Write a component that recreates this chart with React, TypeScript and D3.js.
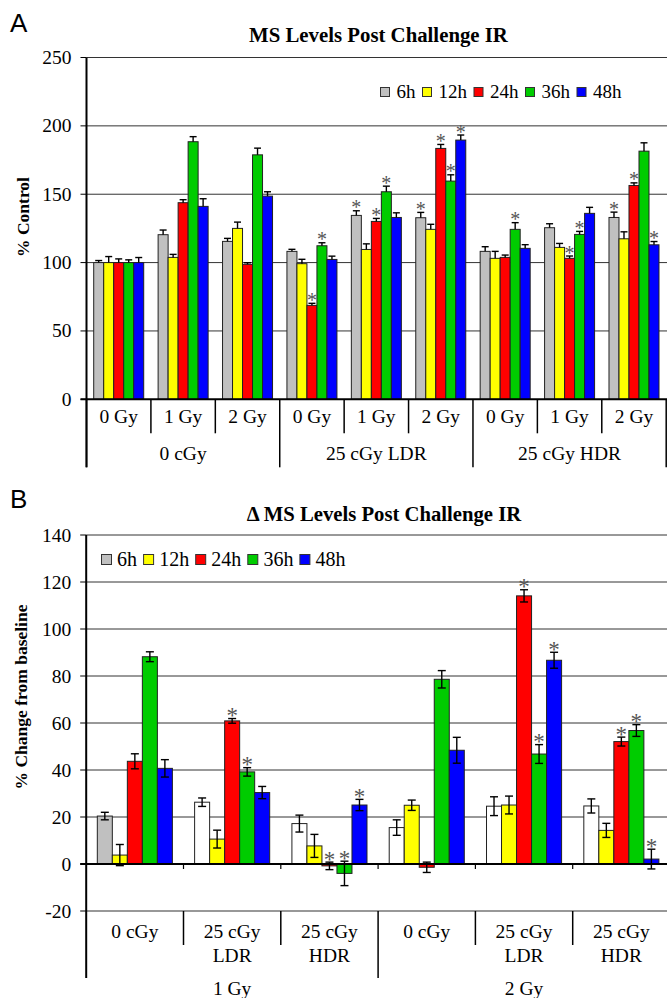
import { useEffect, useRef } from "react";
import * as d3 from "d3";

const seriesNames = ["6h", "12h", "24h", "36h", "48h"];
const seriesColors = ["#c0c0c0", "#ffff00", "#ff0000", "#00cc00", "#0000ff"];

// Panel A: % control, 9 dose groups inside 3 priming groups
const doseLabelsA = ["0 Gy", "1 Gy", "2 Gy", "0 Gy", "1 Gy", "2 Gy", "0 Gy", "1 Gy", "2 Gy"];
const primeLabelsA = ["0 cGy", "25 cGy LDR", "25 cGy HDR"];
const ticksA = [0, 50, 100, 150, 200, 250];

const a6h = [100, 120.4, 115.5, 108.2, 134.5, 132.8, 108.2, 125.5, 133];
const a12h = [100, 103.8, 125, 99.2, 109.6, 124.3, 103.1, 111.1, 117.4];
const a24h = [100, 143.8, 98.7, 68.7, 130.1, 183.5, 103.8, 103.1, 156.4];
const a36h = [100, 188.4, 178.8, 112.3, 151.8, 159.6, 124.3, 120.6, 181.5];
const a48h = [100, 141.1, 148.6, 102.3, 133, 189.6, 110.4, 136, 113];

const a6hErr = [1.5, 3.4, 2.2, 1.5, 3.4, 3.9, 3.4, 2.9, 3.9];
const a12hErr = [4.4, 2.2, 4.6, 3.2, 4.1, 3.7, 5.1, 2.9, 5.1];
const a24hErr = [2.7, 2.2, 1.2, 1.5, 2.2, 2.9, 1.7, 1.7, 1.9];
const a36hErr = [2, 3.7, 4.9, 2.2, 4.1, 4.6, 4.9, 2.2, 6.1];
const a48hErr = [3.7, 5.6, 3.2, 2.4, 3.4, 3.7, 2.7, 4.4, 2.4];

const a6hSig = [0, 0, 0, 0, 1, 1, 0, 0, 1];
const a12hSig = [0, 0, 0, 0, 0, 0, 0, 0, 0];
const a24hSig = [0, 0, 0, 1, 1, 1, 0, 1, 1];
const a36hSig = [0, 0, 0, 1, 1, 1, 1, 1, 0];
const a48hSig = [0, 0, 0, 0, 0, 1, 0, 0, 1];

// Panel B: % change from baseline, 6 priming groups inside 2 challenge doses
const primeLabelsB = [["0 cGy"], ["25 cGy", "LDR"], ["25 cGy", "HDR"], ["0 cGy"], ["25 cGy", "LDR"], ["25 cGy", "HDR"]];
const doseLabelsB = ["1 Gy", "2 Gy"];
const ticksB = [-20, 0, 20, 40, 60, 80, 100, 120, 140];

const b6h = [20.4, 26.3, 17.2, 15.5, 24.6, 24.7];
const b12h = [3.8, 10.6, 7.7, 25, 25.1, 14.3];
const b24h = [43.7, 60.9, -0.8, -1.4, 114.1, 52.1];
const b36h = [88.2, 39.2, -4, 78.6, 46.8, 56.8];
const b48h = [40.7, 30.4, 25.1, 48.4, 86.7, 2.1];

const b6hErr = [1.6, 1.8, 3.6, 3.3, 4, 3];
const b12hErr = [4.5, 3.8, 4.9, 2.2, 3.8, 3];
const b24hErr = [3.2, 1, 1.6, 2.2, 2.6, 1.9];
const b36hErr = [2.1, 1.8, 5.2, 3.7, 4, 2.5];
const b48hErr = [3.7, 2.6, 2.4, 5.5, 3.4, 4.2];

const b6hSig = [0, 0, 0, 0, 0, 0];
const b12hSig = [0, 0, 0, 0, 0, 0];
const b24hSig = [0, 1, 1, 0, 1, 1];
const b36hSig = [0, 1, 1, 0, 1, 1];
const b48hSig = [0, 0, 1, 0, 1, 1];

const SERIF = "'Liberation Serif', 'Times New Roman', serif";
const SANS = "'Liberation Sans', Arial, sans-serif";
const LABEL_SIZE = 19.5;

type Sel = d3.Selection<SVGGElement, unknown, null, undefined>;

type PanelCfg = {
    left: number;
    right: number;
    top: number;
    bottom: number;
    domain: [number, number];
    ticks: number[];
    values: number[][];
    errors: number[][];
    sig: number[][];
    twoSided: boolean;
    outerPad: number;
    starSize: number;
    starDrop: number;
    fill: (s: number, g: number) => string;
};

function drawBars(g: Sel, c: PanelCfg) {
    const nGroups = c.values[0].length;
    const groups = d3.range(nGroups);
    const x0 = d3.scaleBand<number>().domain(groups).range([c.left, c.right]);
    const x1 = d3
        .scaleBand<number>()
        .domain(d3.range(c.values.length))
        .range([0, x0.bandwidth()])
        .paddingInner(0)
        .paddingOuter(c.outerPad);
    const y = d3.scaleLinear(c.domain, [c.bottom, c.top]);

    // gridlines
    g.append("g")
        .selectAll("line")
        .data(c.ticks.filter((t) => t !== 0 && t !== c.domain[0]))
        .join("line")
        .attr("x1", c.left)
        .attr("x2", 667)
        .attr("y1", (d) => y(d))
        .attr("y2", (d) => y(d))
        .attr("stroke", "#333")
        .attr("stroke-width", 1);

    // y ticks + labels
    const ya = g.append("g");
    ya.selectAll("line")
        .data(c.ticks)
        .join("line")
        .attr("x1", c.left - 6)
        .attr("x2", c.left)
        .attr("y1", (d) => y(d))
        .attr("y2", (d) => y(d))
        .attr("stroke", "#000");
    ya.selectAll("text")
        .data(c.ticks)
        .join("text")
        .attr("x", c.left - 15)
        .attr("y", (d) => y(d) + 6.5)
        .attr("text-anchor", "end")
        .attr("font-family", SERIF)
        .attr("font-size", LABEL_SIZE)
        .text((d) => d);

    const bars = g.append("g");
    c.values.forEach((vals, s) => {
        vals.forEach((v, gi) => {
            const bx = (x0(gi) ?? 0) + (x1(s) ?? 0);
            const bw = x1.bandwidth();
            const cx = bx + bw / 2;
            const e = c.errors[s][gi];
            bars.append("rect")
                .attr("x", bx)
                .attr("y", y(Math.max(v, 0)))
                .attr("width", bw)
                .attr("height", Math.abs(y(v) - y(0)))
                .attr("fill", c.fill(s, gi))
                .attr("stroke", "#222")
                .attr("stroke-width", 1);
            const hi = y(v + e);
            const lo = c.twoSided ? y(v - e) : y(v);
            const cap = c.twoSided ? 4 : 3.5;
            bars.append("line")
                .attr("x1", cx)
                .attr("x2", cx)
                .attr("y1", lo)
                .attr("y2", hi)
                .attr("stroke", "#000")
                .attr("stroke-width", 1.4);
            bars.append("line")
                .attr("x1", cx - cap)
                .attr("x2", cx + cap)
                .attr("y1", hi)
                .attr("y2", hi)
                .attr("stroke", "#000")
                .attr("stroke-width", 1.4);
            if (c.twoSided) {
                bars.append("line")
                    .attr("x1", cx - cap)
                    .attr("x2", cx + cap)
                    .attr("y1", lo)
                    .attr("y2", lo)
                    .attr("stroke", "#000")
                    .attr("stroke-width", 1.4);
            }
            if (c.sig[s][gi]) {
                bars.append("text")
                    .attr("x", cx)
                    .attr("y", hi + c.starDrop)
                    .attr("text-anchor", "middle")
                    .attr("font-family", SERIF)
                    .attr("font-size", c.starSize)
                    .attr("fill", "#555")
                    .text("*");
            }
        });
    });

    // zero line
    g.append("line")
        .attr("x1", c.left - 6)
        .attr("x2", 667)
        .attr("y1", y(0))
        .attr("y2", y(0))
        .attr("stroke", "#000")
        .attr("stroke-width", 2);

    return { x0, y };
}

function drawLegend(g: Sel, x: number, cy: number, sq: number, pad: number, size: number, gap: number) {
    let cx = x;
    seriesNames.forEach((name, i) => {
        g.append("rect")
            .attr("x", cx)
            .attr("y", cy - sq / 2)
            .attr("width", sq)
            .attr("height", sq)
            .attr("fill", seriesColors[i])
            .attr("stroke", "#333");
        const t = g
            .append("text")
            .attr("x", cx + sq + pad)
            .attr("y", cy + size * 0.34)
            .attr("font-family", SERIF)
            .attr("font-size", size)
            .text(name);
        const w = (t.node() as SVGTextElement).getComputedTextLength();
        cx += sq + pad + w + gap;
    });
}

function App() {
    const svgRef = useRef<SVGSVGElement>(null);

    useEffect(() => {
        if (!svgRef.current) return;
        const svg = d3.select(svgRef.current);
        const root = svg.append("g") as Sel;

        // ---------- Panel A ----------
        const gA = root.append("g") as Sel;
        const A = drawBars(gA, {
            left: 86.5,
            right: 666.2,
            top: 57.5,
            bottom: 399.3,
            domain: [0, 250],
            ticks: ticksA,
            values: [a6h, a12h, a24h, a36h, a48h],
            errors: [a6hErr, a12hErr, a24hErr, a36hErr, a48hErr],
            sig: [a6hSig, a12hSig, a24hSig, a36hSig, a48hSig],
            twoSided: false,
            outerPad: 0.72,
            starSize: 20,
            starDrop: 3.5,
            fill: (s) => seriesColors[s],
        });
        const yA0 = A.y(0);
        const bwA = A.x0.bandwidth();
        doseLabelsA.forEach((lab, i) => {
            const gx = A.x0(i) ?? 0;
            gA.append("text")
                .attr("x", gx + bwA / 2)
                .attr("y", yA0 + 24)
                .attr("text-anchor", "middle")
                .attr("font-family", SERIF)
                .attr("font-size", LABEL_SIZE)
                .text(lab);
        });
        d3.range(doseLabelsA.length + 1).forEach((i) => {
            const bx = i < doseLabelsA.length ? A.x0(i) ?? 0 : 666.2;
            const outer = i % 3 === 0;
            gA.append("line")
                .attr("x1", bx)
                .attr("x2", bx)
                .attr("y1", yA0)
                .attr("y2", yA0 + (outer ? 68 : 34))
                .attr("stroke", "#000")
                .attr("stroke-width", 1.5);
        });
        primeLabelsA.forEach((lab, i) => {
            gA.append("text")
                .attr("x", (A.x0(i * 3) ?? 0) + bwA * 1.5)
                .attr("y", yA0 + 61)
                .attr("text-anchor", "middle")
                .attr("font-family", SERIF)
                .attr("font-size", LABEL_SIZE)
                .text(lab);
        });
        // left axis
        gA.append("line")
            .attr("x1", 86.5)
            .attr("x2", 86.5)
            .attr("y1", 57.5)
            .attr("y2", yA0 + 68)
            .attr("stroke", "#000")
            .attr("stroke-width", 2);
        drawLegend(gA, 380.5, 92, 9, 7, 19, 7);
        gA.append("text")
            .attr("x", 378.5)
            .attr("y", 42)
            .attr("text-anchor", "middle")
            .attr("font-family", SERIF)
            .attr("font-weight", "bold")
            .attr("font-size", 20.8)
            .text("MS Levels Post Challenge IR");
        gA.append("text")
            .attr("transform", `translate(29,217) rotate(-90)`)
            .attr("text-anchor", "middle")
            .attr("font-family", SERIF)
            .attr("font-weight", "bold")
            .attr("font-size", 17.5)
            .text("% Control");
        gA.append("text")
            .attr("x", 10)
            .attr("y", 32)
            .attr("font-family", SANS)
            .attr("font-size", 26)
            .text("A");

        // ---------- Panel B ----------
        const gB = root.append("g") as Sel;
        const rightB = 86.2 + 6 * 97.3;
        const B = drawBars(gB, {
            left: 86.2,
            right: rightB,
            top: 535,
            bottom: 911,
            domain: [-20, 140],
            ticks: ticksB,
            values: [b6h, b12h, b24h, b36h, b48h],
            errors: [b6hErr, b12hErr, b24hErr, b36hErr, b48hErr],
            sig: [b6hSig, b12hSig, b24hSig, b36hSig, b48hSig],
            twoSided: true,
            outerPad: 0.74,
            starSize: 23,
            starDrop: 4.5,
            fill: (s, gi) => (s === 0 && gi > 0 ? "#ffffff" : seriesColors[s]),
        });
        const yB0 = B.y(0);
        const yBb = B.y(-20);
        const bwB = B.x0.bandwidth();
        // bottom border of plot area
        gB.append("line")
            .attr("x1", 86.2)
            .attr("x2", 667)
            .attr("y1", yBb)
            .attr("y2", yBb)
            .attr("stroke", "#333")
            .attr("stroke-width", 1.2);
        primeLabelsB.forEach((lines, i) => {
            const gx = B.x0(i) ?? 0;
            lines.forEach((ln, k) => {
                gB.append("text")
                    .attr("x", gx + bwB / 2)
                    .attr("y", yBb + 26.5 + k * 24.5)
                    .attr("text-anchor", "middle")
                    .attr("font-family", SERIF)
                    .attr("font-size", LABEL_SIZE)
                    .text(ln);
            });
        });
        d3.range(1, primeLabelsB.length + 1).forEach((i) => {
            const bx = i < primeLabelsB.length ? B.x0(i) ?? 0 : rightB;
            const outer = i % 3 === 0;
            gB.append("line")
                .attr("x1", bx)
                .attr("x2", bx)
                .attr("y1", yB0)
                .attr("y2", yB0 + 5)
                .attr("stroke", "#000")
                .attr("stroke-width", 1.2);
            gB.append("line")
                .attr("x1", bx)
                .attr("x2", bx)
                .attr("y1", yBb)
                .attr("y2", yBb + (outer ? 67 : 34))
                .attr("stroke", "#000")
                .attr("stroke-width", 1.5);
        });
        doseLabelsB.forEach((lab, i) => {
            gB.append("text")
                .attr("x", (B.x0(i * 3) ?? 0) + bwB * 1.5)
                .attr("y", yBb + 84)
                .attr("text-anchor", "middle")
                .attr("font-family", SERIF)
                .attr("font-size", LABEL_SIZE)
                .text(lab);
        });
        gB.append("line")
            .attr("x1", 86.2)
            .attr("x2", 86.2)
            .attr("y1", 535)
            .attr("y2", yBb + 67)
            .attr("stroke", "#000")
            .attr("stroke-width", 2);
        drawLegend(gB, 101.5, 559.5, 10, 5.6, 20, 6.5);
        gB.append("text")
            .attr("x", 384)
            .attr("y", 521)
            .attr("text-anchor", "middle")
            .attr("font-family", SERIF)
            .attr("font-weight", "bold")
            .attr("font-size", 20.7)
            .text("Δ MS Levels Post Challenge IR");
        gB.append("text")
            .attr("transform", `translate(27,697) rotate(-90)`)
            .attr("text-anchor", "middle")
            .attr("font-family", SERIF)
            .attr("font-weight", "bold")
            .attr("font-size", 17.5)
            .text("% Change from baseline");
        gB.append("text")
            .attr("x", 10)
            .attr("y", 508)
            .attr("font-family", SANS)
            .attr("font-size", 26)
            .text("B");

        return () => {
            svg.selectAll("*").remove();
        };
    }, []);

    return (
        <div style={{ position: "absolute", left: 0, top: 0 }}>
            <svg ref={svgRef} width={667} height={998} style={{ display: "block", background: "#fff" }} />
        </div>
    );
}

export default App;
